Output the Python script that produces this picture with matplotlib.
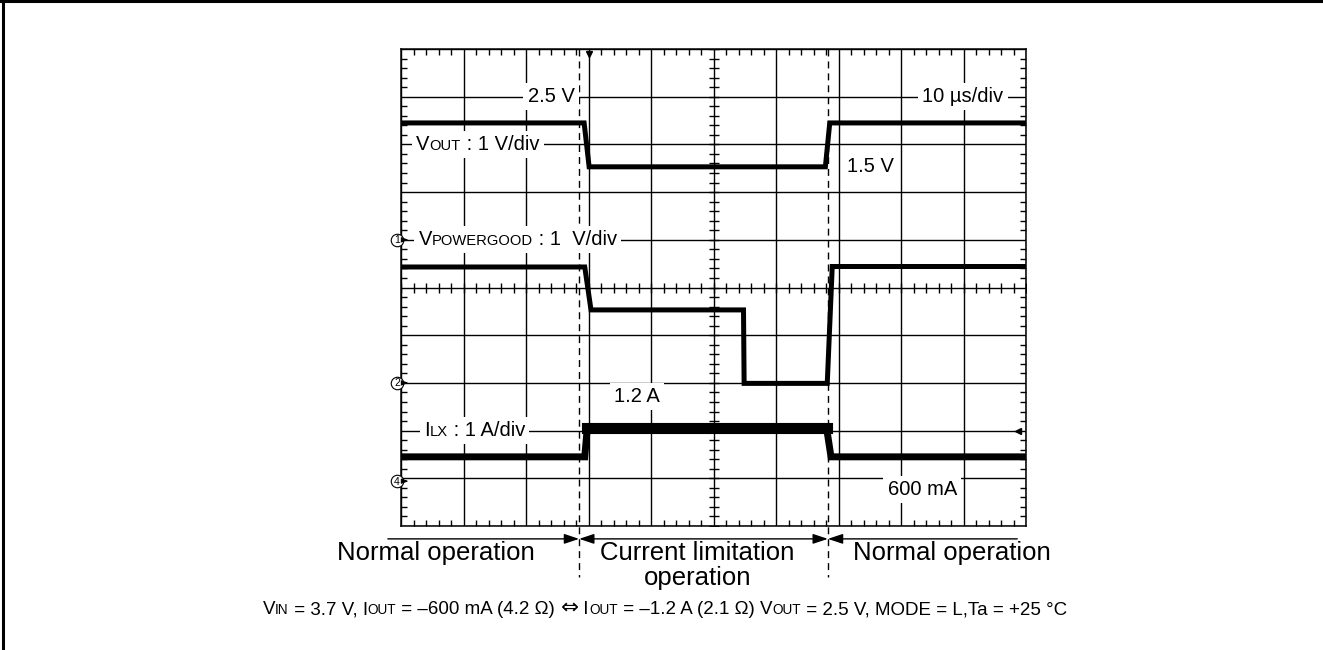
import numpy as np
import matplotlib
matplotlib.use('Agg')
import matplotlib.pyplot as plt
from matplotlib.offsetbox import TextArea, HPacker, AnnotationBbox
from matplotlib.lines import Line2D

plt.rcParams['font.family'] = ['Liberation Sans', 'DejaVu Sans']

# traces: x in divisions (10 us/div), y in divisions from bottom
vout_t = [0, 2.93, 3.01, 6.79, 6.86, 10]
vout_v = [8.45, 8.45, 7.53, 7.53, 8.45, 8.45]

pg_t = [0, 2.94, 3.04, 5.48, 5.49, 6.82, 6.90, 10]
pg_v = [5.43, 5.43, 4.53, 4.53, 2.99, 2.99, 5.44, 5.44]

ilx_t = [0, 2.94, 2.98, 6.81, 6.88, 10]
ilx_v = [1.45, 1.45, 2.05, 2.05, 1.45, 1.45]

# phase boundaries (divisions) and channel ground markers
bounds = [2.85, 6.83]
ch_ids = ['1', '2', '4']
ch_levels = [6.0, 3.0, 0.94]

fig = plt.figure(figsize=(13.23, 6.5), dpi=100)
ax = fig.add_axes([401/1323, 124/650, 625/1323, 477/650])
ax.set_xlim(0, 10)
ax.set_ylim(0, 10)

# scope graticule
ax.set_xticks(np.arange(0, 11, 1))
ax.set_yticks(np.arange(0, 11, 1))
ax.set_xticks(np.arange(0, 10.01, 0.2), minor=True)
ax.set_yticks(np.arange(0, 10.01, 0.2), minor=True)
ax.grid(True, which='major', color='k', lw=1.0)
ax.tick_params(which='major', length=0, labelbottom=False, labelleft=False)
ax.tick_params(which='minor', direction='in', length=4, width=1, top=True, right=True)
for s in ax.spines.values():
    s.set_linewidth(1.1)
mt = np.arange(0, 10.01, 0.2)
ax.plot(mt, np.full_like(mt, 5), ls='none', marker='|', ms=7, mew=1, color='k', zorder=2)
ax.plot(np.full_like(mt, 5), mt, ls='none', marker='_', ms=7, mew=1, color='k', zorder=2)

# traces
ax.plot(vout_t, vout_v, color='k', lw=3.6, zorder=3, solid_joinstyle='miter')
ax.plot(pg_t, pg_v, color='k', lw=3.6, zorder=3, solid_joinstyle='miter')
ax.plot(ilx_t, ilx_v, color='k', lw=5, zorder=3, solid_joinstyle='miter')
ax.plot(ilx_t[2:4], ilx_v[2:4], color='k', lw=8, zorder=3)

# dashed phase boundaries
for b in bounds:
    ax.plot([b, b], [10, -1.07], color='k', lw=1, ls=(0, (5, 3.6)), clip_on=False, zorder=4)

# channel markers
for n, yy in zip(ch_ids, ch_levels):
    ax.plot(-0.064, yy, marker='o', ms=9, mfc='white', mec='k', mew=0.8, clip_on=False, zorder=7)
    ax.text(-0.064, yy - 0.01, n, size=7.5, ha='center', va='center', zorder=8)
    ax.annotate('', xy=(0.12, yy), xytext=(0.03, yy),
                arrowprops=dict(arrowstyle='-|>,head_length=0.4,head_width=0.15', lw=0.8,
                                color='k', shrinkA=0, shrinkB=0), annotation_clip=False, zorder=8)
ax.plot(9.87, 2.0, marker='<', ms=4, color='k', zorder=4)
ax.plot(3.0, 9.9, marker='v', ms=4, color='k', zorder=4)


def label(x, y, parts, size=14.5, bg=True):
    kids = []
    for s, kind in parts:
        if kind == 1:
            props = dict(size=size * 0.73)
        elif kind == 2:
            props = dict(size=size * 1.15, family='DejaVu Sans')
        else:
            props = dict(size=size)
        kids.append(TextArea(s, textprops=props))
    box = HPacker(children=kids, align='baseline', pad=0, sep=0)
    ab = AnnotationBbox(box, (x, y), xycoords='data', frameon=bg, box_alignment=(0.5, 0.5),
                        pad=0.3, bboxprops=dict(fc='white', ec='none'),
                        annotation_clip=False, zorder=6)
    ax.add_artist(ab)


label(2.40, 9.0, [('2.5 V', 0)])
label(8.99, 9.0, [('10 µs/div', 0)])
label(1.23, 8.0, [('V', 0), ('OUT', 1), (' : 1 V/div', 0)])
label(1.87, 6.0, [('V', 0), ('POWERGOOD', 1), (' : 1  V/div', 0)])
label(7.51, 7.53, [('1.5 V', 0)], bg=False)
label(3.78, 2.71, [('1.2 A', 0)])
label(1.18, 2.0, [('I', 0), ('LX', 1), (' : 1 A/div', 0)])
label(8.34, 0.77, [('600 mA', 0)])

# operation phases
arr = dict(color='k', lw=1, shrinkA=0, shrinkB=0)
ax.annotate('', xy=(bounds[0], -0.27), xytext=(-0.21, -0.27),
            arrowprops=dict(arrowstyle='-|>,head_length=0.6,head_width=0.2', mutation_scale=15, **arr),
            annotation_clip=False)
ax.annotate('', xy=(bounds[0], -0.27), xytext=(bounds[1], -0.27),
            arrowprops=dict(arrowstyle='<|-|>,head_length=0.6,head_width=0.2', mutation_scale=15, **arr),
            annotation_clip=False)
ax.annotate('', xy=(bounds[1], -0.27), xytext=(9.86, -0.27),
            arrowprops=dict(arrowstyle='-|>,head_length=0.6,head_width=0.2', mutation_scale=15, **arr),
            annotation_clip=False)
ax.text(0.56, -0.57, 'Normal operation', size=18.5, ha='center', va='center')
ax.text(4.74, -0.57, 'Current limitation', size=18.5, ha='center', va='center')
ax.text(4.74, -1.09, 'operation', size=18.5, ha='center', va='center')
ax.text(8.82, -0.57, 'Normal operation', size=18.5, ha='center', va='center')

label(4.22, -1.72, [('V', 0), ('IN', 1), (' = 3.7 V, I', 0), ('OUT', 1),
                    (' = \u2013600 mA (4.2 \u03a9) ', 0), ('\u21d4', 2), (' I', 0), ('OUT', 1),
                    (' = \u20131.2 A (2.1 \u03a9) V', 0), ('OUT', 1),
                    (' = 2.5 V, MODE = L,Ta = +25 \u00b0C', 0)], size=13.5, bg=False)

# page frame (top and left edges)
fig.add_artist(Line2D([0, 1], [0.9985, 0.9985], color='k', lw=2.2, transform=fig.transFigure))
fig.add_artist(Line2D([0.0023, 0.0023], [0, 1], color='k', lw=2.2, transform=fig.transFigure))

fig.savefig('out.png', dpi=100)
